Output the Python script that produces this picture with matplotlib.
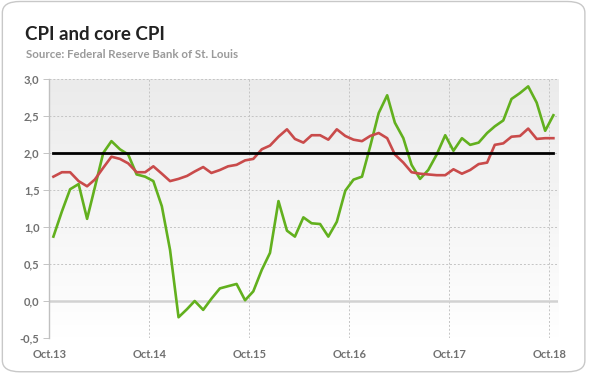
import numpy as np
import pandas as pd
import matplotlib
matplotlib.use("Agg")
import matplotlib.pyplot as plt
from matplotlib.patches import FancyBboxPatch

# monthly year-over-year rates, Oct 2013 .. Oct 2018
start_month = "2013-10"
cpi = [0.87, 1.21, 1.51, 1.58, 1.11, 1.53, 2.00, 2.16, 2.05, 1.98, 1.71, 1.68,
       1.62, 1.28, 0.69, -0.22, -0.11, 0.00, -0.12, 0.03, 0.17, 0.20, 0.23, 0.01,
       0.13, 0.42, 0.65, 1.35, 0.95, 0.87, 1.13, 1.05, 1.04, 0.87, 1.07, 1.49,
       1.64, 1.68, 2.09, 2.54, 2.78, 2.41, 2.20, 1.84, 1.65, 1.77, 1.98, 2.24,
       2.03, 2.20, 2.11, 2.14, 2.27, 2.36, 2.44, 2.73, 2.81, 2.90, 2.68, 2.30, 2.51]
core_cpi = [1.68, 1.74, 1.74, 1.62, 1.55, 1.64, 1.80, 1.95, 1.92, 1.86, 1.74, 1.74,
            1.82, 1.72, 1.62, 1.65, 1.69, 1.75, 1.81, 1.73, 1.77, 1.82, 1.84, 1.90,
            1.92, 2.05, 2.10, 2.22, 2.32, 2.19, 2.14, 2.24, 2.24, 2.18, 2.32, 2.23,
            2.18, 2.16, 2.23, 2.27, 2.20, 1.98, 1.87, 1.74, 1.72, 1.71, 1.70, 1.70,
            1.78, 1.72, 1.77, 1.85, 1.87, 2.11, 2.13, 2.22, 2.23, 2.33, 2.19, 2.20, 2.20]
target = 2.0
y_ticks = [-0.5, 0.0, 0.5, 1.0, 1.5, 2.0, 2.5, 3.0]
x_tick_labels = ["Oct.13", "Oct.14", "Oct.15", "Oct.16", "Oct.17", "Oct.18"]

months = pd.date_range(start_month, periods=len(cpi), freq="MS")
x = months + pd.Timedelta(days=15)
tick_dates = pd.date_range(start_month, periods=len(x_tick_labels), freq="12MS")

fig = plt.figure(figsize=(5.89, 3.74), dpi=100)
fig.patch.set_facecolor("white")

# rounded frame around the whole picture
frame = FancyBboxPatch((0.004, 0.006), 0.989, 0.99, boxstyle="round,pad=0,rounding_size=0.03",
                       transform=fig.transFigure, fill=False, edgecolor="#c8c8c8", linewidth=1.0)
fig.patches.append(frame)

fig.text(0.042, 0.893, "CPI and core CPI", fontsize=13.5, fontweight="bold",
         color="#222222", family="Lato")
fig.text(0.044, 0.844, "Source: Federal Reserve Bank of St. Louis", fontsize=8.3,
         fontweight="bold", color="#9a9a9a", family="Lato")

ax = fig.add_axes([0.0837, 0.0963, 0.8642, 0.6925])
ax.set_facecolor("none")

# vertical gradient background
grad = np.linspace(0, 1, 256).reshape(-1, 1)
ax.imshow(grad, extent=[0, 1, 0, 1], transform=ax.transAxes, aspect="auto",
          cmap=matplotlib.colors.LinearSegmentedColormap.from_list("bg", ["#ffffff", "#ebebeb"]),
          origin="lower", zorder=0)

ax.plot(x, cpi, color="#62b01e", linewidth=1.9, zorder=3, solid_joinstyle="round")
ax.plot(x, core_cpi, color="#c94b4b", linewidth=1.9, zorder=3, solid_joinstyle="round")
ax.plot([x[0], x[-1]], [target, target], color="black", linewidth=2.0, zorder=4)

ax.set_xlim(pd.Timestamp("2013-10-01"), pd.Timestamp("2018-11-03"))
ax.set_ylim(-0.5, 3.0)
ax.set_yticks(y_ticks)
ax.set_yticklabels([f"{v:.1f}".replace(".", ",") for v in y_ticks])
ax.set_xticks(tick_dates)
ax.set_xticklabels(x_tick_labels)

ax.grid(True, color="#c4c4c4", linestyle=(0, (2, 2)), linewidth=0.7, zorder=1)
ax.axhline(0, color="#d2d2d2", linewidth=1.8, zorder=2)

for side in ["top", "right"]:
    ax.spines[side].set_visible(False)
ax.spines["bottom"].set_visible(False)
ax.spines["left"].set_color("#c0c0c0")
ax.spines["left"].set_linewidth(1.0)

ax.tick_params(axis="y", length=4, width=0.7, color="#c4c4c4", pad=3,
               labelsize=8, labelcolor="#707070")
ax.tick_params(axis="x", length=0, pad=8, labelsize=8, labelcolor="#707070")
for lab in ax.get_xticklabels() + ax.get_yticklabels():
    lab.set_fontweight("bold")
    lab.set_family("Lato")

fig.savefig("out.png", dpi=100)
